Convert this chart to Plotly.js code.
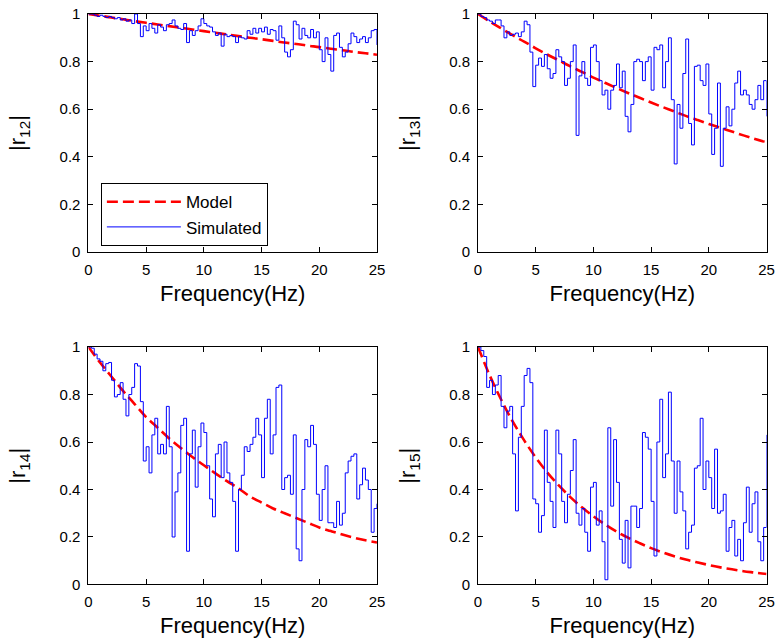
<!DOCTYPE html>
<html>
<head>
<meta charset="utf-8">
<script src="https://cdn.plot.ly/plotly-3.0.1.min.js"></script>
<style>html,body{margin:0;padding:0;background:#fff;}#chart{width:776px;height:643px;}</style>
</head>
<body>
<div id="chart"></div>
<script>
// Frequency grid of the simulated curves (Hz)
const freq = [0,0.25,0.5,0.75,1,1.25,1.5,1.75,2,2.25,2.5,2.75,3,3.25,3.5,3.75,4,4.25,4.5,4.75,
  5,5.25,5.5,5.75,6,6.25,6.5,6.75,7,7.25,7.5,7.75,8,8.25,8.5,8.75,9,9.25,9.5,9.75,
  10,10.25,10.5,10.75,11,11.25,11.5,11.75,12,12.25,12.5,12.75,13,13.25,13.5,13.75,14,14.25,14.5,14.75,
  15,15.25,15.5,15.75,16,16.25,16.5,16.75,17,17.25,17.5,17.75,18,18.25,18.5,18.75,19,19.25,19.5,19.75,
  20,20.25,20.5,20.75,21,21.25,21.5,21.75,22,22.25,22.5,22.75,23,23.25,23.5,23.75,24,24.25,24.5,24.75,25];

// Frequency points of the model curves (Hz)
const modelFreq = [0,1,2,3,4,5,6,7,8,9,10,11,12,13,14,15,16,17,18,19,20,21,22,23,24,25];

// |r12|
const model12 = [1.000,0.993,0.985,0.978,0.970,0.963,0.956,0.949,0.942,0.935,0.928,0.921,0.914,0.907,0.900,0.894,0.887,0.880,0.874,0.867,0.861,0.854,0.848,0.841,0.835,0.829];
const sim12 = [
  1.0,1.0,0.995,0.99,  0.995,0.99,0.985,0.99,  0.985,0.98,0.985,0.975,  0.98,0.97,0.975,0.96,
  1.0,0.96,0.905,0.95,  0.93,0.96,0.94,0.92,  0.955,0.945,0.93,0.955,  0.96,0.975,0.95,0.94,
  0.935,0.96,0.88,0.93,  0.91,0.93,0.95,0.98,  0.96,0.95,0.945,0.925,  0.91,0.92,0.865,0.915,
  0.905,0.91,0.905,0.88,  0.905,0.9,0.895,0.93,  0.915,0.94,0.92,0.94,  0.925,0.945,0.915,0.935,
  0.93,0.89,0.95,0.9,  0.84,0.82,0.85,0.97,  0.955,0.895,0.94,0.91,  0.9,0.935,0.9,0.925,
  0.85,0.8,0.9,0.83,  0.76,0.91,0.92,0.86,  0.82,0.84,0.875,0.92,  0.905,0.88,0.895,0.905,
  0.88,0.9,0.93,0.935,  0.87];

// |r13|
const model13 = [1.000,0.969,0.940,0.911,0.884,0.856,0.830,0.805,0.780,0.757,0.733,0.711,0.689,0.668,0.648,0.628,0.609,0.591,0.572,0.555,0.538,0.522,0.506,0.490,0.475,0.461];
const sim13 = [
  1.0,0.99,0.985,0.975,  0.97,0.96,0.975,0.975,  0.95,0.9,0.925,0.91,  0.915,0.92,0.905,0.925,
  0.97,0.955,0.84,0.695,  0.785,0.815,0.78,0.83,  0.77,0.73,0.75,0.85,  0.82,0.8,0.7,0.73,
  0.8,0.87,0.49,0.74,  0.8,0.73,0.7,0.86,  0.87,0.8,0.72,0.66,  0.68,0.6,0.68,0.7,
  0.79,0.69,0.76,0.57,  0.505,0.62,0.8,0.81,  0.8,0.72,0.8,0.82,  0.68,0.86,0.85,0.87,
  0.69,0.8,0.9,0.64,  0.37,0.62,0.52,0.75,  0.895,0.54,0.45,0.78,  0.785,0.72,0.7,0.79,
  0.58,0.41,0.52,0.71,  0.36,0.52,0.61,0.53,  0.6,0.71,0.76,0.66,  0.68,0.66,0.62,0.6,
  0.64,0.7,0.64,0.72,  0.57];

// |r14|
const model14 = [1.000,0.935,0.875,0.815,0.760,0.705,0.660,0.615,0.575,0.537,0.502,0.468,0.435,0.405,0.370,0.345,0.320,0.300,0.280,0.260,0.240,0.225,0.210,0.197,0.186,0.177];
const sim14 = [
  1.0,0.995,0.97,0.95,  0.94,0.9,0.93,0.935,  0.86,0.79,0.8,0.85,  0.78,0.71,0.8,0.83,
  0.93,0.92,0.77,0.52,  0.58,0.47,0.63,0.7,  0.55,0.59,0.55,0.75,  0.58,0.2,0.39,0.47,
  0.67,0.7,0.14,0.55,  0.65,0.41,0.58,0.68,  0.64,0.5,0.36,0.285,  0.55,0.59,0.45,0.6,
  0.47,0.43,0.35,0.14,  0.4,0.46,0.58,0.56,  0.59,0.62,0.7,0.63,  0.45,0.7,0.78,0.55,
  0.63,0.83,0.84,0.4,  0.45,0.46,0.38,0.63,  0.15,0.1,0.4,0.61,  0.58,0.67,0.59,0.38,
  0.27,0.4,0.5,0.26,  0.26,0.24,0.35,0.25,  0.3,0.47,0.52,0.54,  0.55,0.36,0.42,0.49,
  0.44,0.4,0.22,0.32,  0.34];

// |r15|
const model15 = [1.000,0.882,0.779,0.687,0.607,0.535,0.472,0.417,0.368,0.325,0.287,0.253,0.223,0.197,0.174,0.153,0.135,0.119,0.105,0.093,0.082,0.072,0.064,0.056,0.050,0.044];
const sim15 = [
  1.0,0.985,0.96,0.83,  0.86,0.8,0.84,0.88,  0.75,0.66,0.73,0.75,  0.55,0.31,0.62,0.75,
  0.88,0.91,0.85,0.36,  0.34,0.22,0.29,0.65,  0.43,0.35,0.24,0.65,  0.55,0.35,0.26,0.38,
  0.48,0.61,0.3,0.25,  0.32,0.22,0.14,0.41,  0.43,0.25,0.31,0.18,  0.02,0.66,0.33,0.61,
  0.43,0.19,0.09,0.27,  0.07,0.33,0.33,0.24,  0.32,0.64,0.62,0.57,  0.35,0.12,0.6,0.78,
  0.45,0.55,0.81,0.52,  0.3,0.52,0.39,0.31,  0.15,0.22,0.25,0.49,  0.5,0.7,0.4,0.52,
  0.45,0.32,0.57,0.3,  0.31,0.38,0.14,0.24,  0.27,0.12,0.19,0.1,  0.26,0.41,0.22,0.34,
  0.39,0.18,0.1,0.24,  0.63];

const yTitles = ['|r<sub>12</sub>|','|r<sub>13</sub>|','|r<sub>14</sub>|','|r<sub>15</sub>|'];
const xTitle = 'Frequency(Hz)';
const legendNames = ['Model','Simulated'];

const models = [model12, model13, model14, model15];
const sims = [sim12, sim13, sim14, sim15];
const FONT = 'Arial, "Liberation Sans", sans-serif';

const traces = [];
for (let i = 0; i < 4; i++) {
  const sfx = i === 0 ? '' : String(i + 1);
  traces.push({
    x: modelFreq, y: models[i], xaxis: 'x' + sfx, yaxis: 'y' + sfx,
    type: 'scatter', mode: 'lines', name: legendNames[0], showlegend: i === 0,
    line: {color: '#ff0000', width: 2.6, dash: '11px,5px', shape: 'spline'}
  });
  traces.push({
    x: freq, y: sims[i], xaxis: 'x' + sfx, yaxis: 'y' + sfx,
    type: 'scatter', mode: 'lines', name: legendNames[1], showlegend: i === 0,
    line: {color: '#0000ff', width: 1, shape: 'hv'}
  });
}

function xa(domain, anchor) {
  return {
    domain: domain, anchor: anchor, range: [0, 25], dtick: 5, tick0: 0,
    showline: true, linecolor: '#000', linewidth: 1, mirror: 'allticks',
    ticks: 'inside', ticklen: 5, tickcolor: '#000', showgrid: false, zeroline: false,
    tickfont: {family: FONT, size: 15, color: '#000'}, ticklabelstandoff: 4,
    title: {text: xTitle, font: {family: FONT, size: 22, color: '#000'}, standoff: 8}
  };
}
function ya(domain, anchor, t) {
  return {
    domain: domain, anchor: anchor, range: [0, 1], dtick: 0.2, tick0: 0,
    showline: true, linecolor: '#000', linewidth: 1, mirror: 'allticks',
    ticks: 'inside', ticklen: 5, tickcolor: '#000', showgrid: false, zeroline: false,
    tickfont: {family: FONT, size: 15, color: '#000'}, ticklabelstandoff: 4,
    title: {text: t, font: {family: FONT, size: 22, color: '#000'}, standoff: 27}
  };
}

const xL = [0.1140, 0.4858], xR = [0.6160, 0.9878];
const yT = [0.6081, 0.9782], yB = [0.0910, 0.4603];

const layout = {
  width: 776, height: 643,
  margin: {l: 0, r: 0, t: 0, b: 0},
  paper_bgcolor: '#fff', plot_bgcolor: '#fff',
  font: {family: FONT, color: '#000'},
  xaxis: xa(xL, 'y'), yaxis: ya(yT, 'x', yTitles[0]),
  xaxis2: xa(xR, 'y2'), yaxis2: ya(yT, 'x2', yTitles[1]),
  xaxis3: xa(xL, 'y3'), yaxis3: ya(yB, 'x3', yTitles[2]),
  xaxis4: xa(xR, 'y4'), yaxis4: ya(yB, 'x4', yTitles[3]),
  showlegend: true,
  legend: {
    x: 0.130, y: 0.715, xanchor: 'left', yanchor: 'top',
    bgcolor: '#fff', bordercolor: '#000', borderwidth: 1,
    font: {family: FONT, size: 17, color: '#000'},
    itemwidth: 74, tracegroupgap: 0
  }
};

Plotly.newPlot('chart', traces, layout, {displayModeBar: false, staticPlot: true});
</script>
</body>
</html>
